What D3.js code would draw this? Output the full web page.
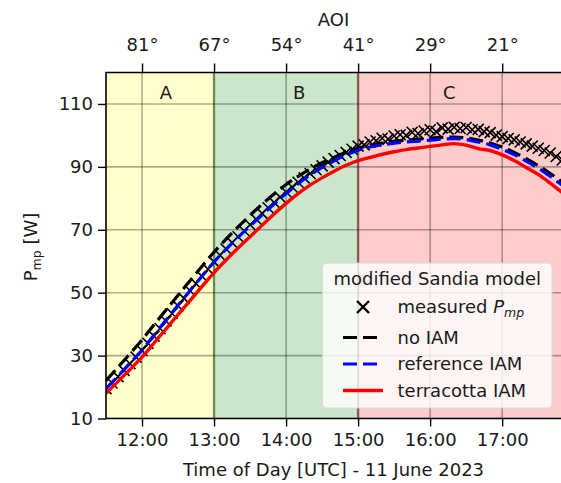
<!DOCTYPE html>
<html>
<head>
<meta charset="utf-8">
<script src="https://cdn.jsdelivr.net/npm/d3@7"></script>
<style>
  body { margin: 0; background: #fff; }
  svg { display: block; font-family: "DejaVu Sans", sans-serif; }
</style>
</head>
<body>
<svg id="chart" width="561" height="483"></svg>
<script>
// model curves, sampled every 10 minutes from 11:30
var lineStart = "11:30", lineStep = 10;
var terracotta = [18.0, 21.8, 25.6, 29.5, 34.0, 38.5, 43.0, 47.5, 52.0, 56.4,
	60.4, 64.2, 67.8, 71.4, 75.0, 78.4, 81.5, 84.2, 86.5, 88.6,
	90.5, 92.0, 93.0, 94.0, 94.8, 95.5, 96.0, 96.5, 97.0, 97.4,
	96.9, 95.8, 95.2, 93.8, 92.0, 89.8, 87.6, 84.8, 81.8];
var reference = [19.5, 23.5, 27.6, 31.8, 36.5, 41.3, 46.0, 50.7, 55.3, 59.8,
	63.8, 67.6, 71.2, 74.7, 78.2, 81.5, 84.6, 87.4, 89.8, 91.9,
	93.8, 95.3, 96.3, 97.0, 97.5, 97.9, 98.2, 98.5, 98.8, 99.0,
	98.7, 97.9, 97.0, 95.6, 93.9, 91.8, 89.6, 87.0, 84.2];
var noIam = [22.0, 26.3, 30.6, 35.0, 39.8, 44.5, 49.2, 53.8, 58.4, 62.9,
	67.0, 70.9, 74.6, 78.1, 81.4, 84.4, 87.0, 89.3, 91.3, 93.0,
	94.6, 95.9, 96.9, 97.6, 98.1, 98.5, 98.8, 99.1, 99.4, 99.5,
	99.2, 98.5, 97.6, 96.3, 94.6, 92.6, 90.4, 87.9, 85.2];

// measured Pmp, every 5 minutes from 11:30
var measuredStart = "11:30", measuredStep = 5;
var measured = [19.5, 21.3, 23.3, 25.3, 27.4, 29.5, 31.6, 33.9, 36.2, 38.6,
	41.0, 43.4, 45.8, 48.2, 50.6, 52.9, 55.2, 57.5, 59.8, 61.9,
	63.9, 65.9, 67.8, 69.7, 71.6, 73.4, 75.2, 77.0, 78.7, 80.4,
	82.0, 83.6, 85.1, 86.5, 87.9, 89.1, 90.3, 91.5, 92.6, 93.6,
	94.6, 95.6, 96.6, 97.0, 97.9, 98.3, 99.1, 98.8, 99.8, 100.2,
	100.0, 101.0, 100.6, 101.4, 101.8, 101.2, 102.4, 102.0, 102.6, 102.2,
	102.5, 101.8, 101.9, 101.2, 100.9, 100.1, 99.6, 99.0, 98.6, 97.9,
	97.3, 96.6, 95.9, 95.2, 94.4, 93.3, 92.2];

var hourTicks = ["12:00", "13:00", "14:00", "15:00", "16:00", "17:00"];
var aoiLabels = ["81°", "67°", "54°", "41°", "29°", "21°"];
var yTicks = [10, 30, 50, 70, 90, 110];
var regionNames = ["A", "B", "C"];
var regionBounds = ["11:30", "13:00", "15:00", "17:49"];
var regionLabelTimes = ["12:20", "14:11", "16:16"];

var REGION_FILL = ["#ffffcc", "#cce6cc", "#ffcccc"],
	REGION_EDGE = [null, "#8cbc6c", "#b27c72"],
	FONT = 18,
	TEXT = "#1a1a1a";

var toHours = function(s) {
	var p = s.split(":");
	return +p[0] + p[1] / 60;
};
var series = function(start, step, values) {
	var t0 = toHours(start);
	return values.map(function(v, i) { return { t: t0 + i * step / 60, v: v }; });
};

var margin = { left: 106, right: 561, top: 72.5, bottom: 418.5 };

var svg = d3.select("#chart");

var x = d3.scaleLinear()
	.domain([toHours(regionBounds[0]), toHours(regionBounds[3])])
	.range([margin.left, margin.right]);
var y = d3.scaleLinear()
	.domain([10, 120])
	.range([margin.bottom, margin.top]);

svg.append("clipPath").attr("id", "plot-clip")
	.append("rect")
	.attr("x", margin.left).attr("y", margin.top)
	.attr("width", margin.right - margin.left)
	.attr("height", margin.bottom - margin.top);

var plot = svg.append("g").attr("clip-path", "url(#plot-clip)");

// shaded regions
regionNames.forEach(function(name, i) {
	var x0 = x(toHours(regionBounds[i])), x1 = x(toHours(regionBounds[i + 1]));
	plot.append("rect")
		.attr("x", x0).attr("y", margin.top)
		.attr("width", x1 - x0).attr("height", margin.bottom - margin.top)
		.style("fill", REGION_FILL[i]);
});
regionNames.forEach(function(name, i) {
	if (i == 0) return;
	var xb = x(toHours(regionBounds[i]));
	plot.append("line")
		.attr("x1", xb).attr("x2", xb)
		.attr("y1", margin.top).attr("y2", margin.bottom)
		.style("stroke", REGION_EDGE[i])
		.style("stroke-width", 2.5);
});

// grid
plot.selectAll(".vgrid")
	.data(hourTicks)
	.enter()
	.append("line")
	.attr("x1", function(d) { return x(toHours(d)); })
	.attr("x2", function(d) { return x(toHours(d)); })
	.attr("y1", margin.top).attr("y2", margin.bottom)
	.style("stroke", "#000").style("stroke-opacity", 0.32).style("stroke-width", 1.6);
plot.selectAll(".hgrid")
	.data(yTicks)
	.enter()
	.append("line")
	.attr("y1", function(d) { return y(d); })
	.attr("y2", function(d) { return y(d); })
	.attr("x1", margin.left).attr("x2", margin.right)
	.style("stroke", "#000").style("stroke-opacity", 0.32).style("stroke-width", 1.6);

// region letters
regionNames.forEach(function(name, i) {
	svg.append("text")
		.attr("x", x(toHours(regionLabelTimes[i]))).attr("y", 98.5)
		.attr("text-anchor", "middle")
		.style("font-size", FONT + "px")
		.style("fill", TEXT)
		.text(name);
});

// measured points as crosses
var cross = function(cx, cy, r) {
	return "M" + (cx - r) + "," + (cy - r) + "L" + (cx + r) + "," + (cy + r) +
		"M" + (cx - r) + "," + (cy + r) + "L" + (cx + r) + "," + (cy - r);
};
plot.selectAll(".meas")
	.data(series(measuredStart, measuredStep, measured))
	.enter()
	.append("path")
	.attr("d", function(d) { return cross(x(d.t), y(d.v), 5.5); })
	.style("stroke", "#000").style("stroke-width", 1.6).style("fill", "none");

var line = d3.line()
	.x(function(d) { return x(d.t); })
	.y(function(d) { return y(d.v); })
	.curve(d3.curveMonotoneX);

plot.append("path")
	.datum(series(lineStart, lineStep, noIam))
	.attr("d", line)
	.style("fill", "none").style("stroke", "#000")
	.style("stroke-width", 3.2).style("stroke-dasharray", "14,6");
plot.append("path")
	.datum(series(lineStart, lineStep, reference))
	.attr("d", line)
	.style("fill", "none").style("stroke", "#0000ff")
	.style("stroke-width", 3.2).style("stroke-dasharray", "14,6");
plot.append("path")
	.datum(series(lineStart, lineStep, terracotta))
	.attr("d", line)
	.style("fill", "none").style("stroke", "#ff0000")
	.style("stroke-width", 3.4);

// frame (right side is cut off in the figure)
svg.append("path")
	.attr("d", "M" + margin.right + "," + margin.top + "H" + margin.left +
		"V" + margin.bottom + "H" + margin.right)
	.style("fill", "none").style("stroke", "#000").style("stroke-width", 1.6);

// axes
var styleAxis = function(g) {
	g.select(".domain").remove();
	g.selectAll(".tick line").style("stroke", "#000").style("stroke-width", 1.4);
	g.selectAll(".tick text").style("font-size", FONT + "px").style("fill", TEXT)
		.style("font-family", "DejaVu Sans, sans-serif");
};

svg.append("g")
	.attr("transform", "translate(0," + margin.bottom + ")")
	.call(d3.axisBottom(x)
		.tickValues(hourTicks.map(toHours))
		.tickSize(8).tickPadding(7)
		.tickFormat(function(d, i) { return hourTicks[i]; }))
	.call(styleAxis);

svg.append("g")
	.attr("transform", "translate(0," + margin.top + ")")
	.call(d3.axisTop(x)
		.tickValues(hourTicks.map(toHours))
		.tickSize(9).tickPadding(13)
		.tickFormat(function(d, i) { return aoiLabels[i]; }))
	.call(styleAxis);

svg.append("g")
	.attr("transform", "translate(" + margin.left + ",0)")
	.call(d3.axisLeft(y)
		.tickValues(yTicks)
		.tickSize(8).tickPadding(5))
	.call(styleAxis);

// axis titles
svg.append("text")
	.attr("x", 333.5).attr("y", 476)
	.attr("text-anchor", "middle")
	.style("font-size", FONT + "px").style("fill", TEXT)
	.text("Time of Day [UTC] - 11 June 2023");

svg.append("text")
	.attr("x", 333.5).attr("y", 25.5)
	.attr("text-anchor", "middle")
	.style("font-size", FONT + "px").style("fill", TEXT)
	.text("AOI");

var ylab = svg.append("text")
	.attr("transform", "translate(37,247) rotate(-90)")
	.attr("text-anchor", "middle")
	.style("font-size", FONT + "px").style("fill", TEXT);
ylab.append("tspan").text("P");
ylab.append("tspan").attr("dy", 4).style("font-size", "12.5px").text("mp");
ylab.append("tspan").attr("dy", -4).text(" [W]");

// legend
var legend = svg.append("g").attr("transform", "translate(322.5,263)");
legend.append("rect")
	.attr("width", 229.5).attr("height", 145).attr("rx", 4)
	.style("fill", "#fff").style("fill-opacity", 0.8)
	.style("stroke", "#d8d8d8").style("stroke-width", 1);
legend.append("text")
	.attr("x", 114.75).attr("y", 21.5)
	.attr("text-anchor", "middle")
	.style("font-size", FONT + "px").style("fill", TEXT)
	.text("modified Sandia model");

var entries = [
	{ label: "measured", kind: "marker" },
	{ label: "no IAM", kind: "line", color: "#000", dash: "14,6" },
	{ label: "reference IAM", kind: "line", color: "#0000ff", dash: "14,6" },
	{ label: "terracotta IAM", kind: "line", color: "#ff0000", dash: null }
];
var rowY = [44, 74.5, 101, 127.5];
entries.forEach(function(e, i) {
	var g = legend.append("g").attr("transform", "translate(0," + rowY[i] + ")");
	if (e.kind == "marker") {
		g.append("path").attr("d", cross(40.5, 0, 6))
			.style("stroke", "#000").style("stroke-width", 2.4).style("fill", "none");
	} else {
		g.append("line")
			.attr("x1", 20.5).attr("x2", 60.5)
			.style("stroke", e.color).style("stroke-width", e.dash ? 3.2 : 3.4)
			.style("stroke-dasharray", e.dash);
	}
	var t = g.append("text")
		.attr("x", 75).attr("y", 6)
		.style("font-size", FONT + "px").style("fill", TEXT)
		.text(e.label);
	if (e.kind == "marker") {
		t.append("tspan").text(" ");
		t.append("tspan").style("font-style", "italic").text("P");
		t.append("tspan").attr("dy", 4).style("font-size", "12.5px")
			.style("font-style", "italic").text("mp");
	}
});
</script>
</body>
</html>
